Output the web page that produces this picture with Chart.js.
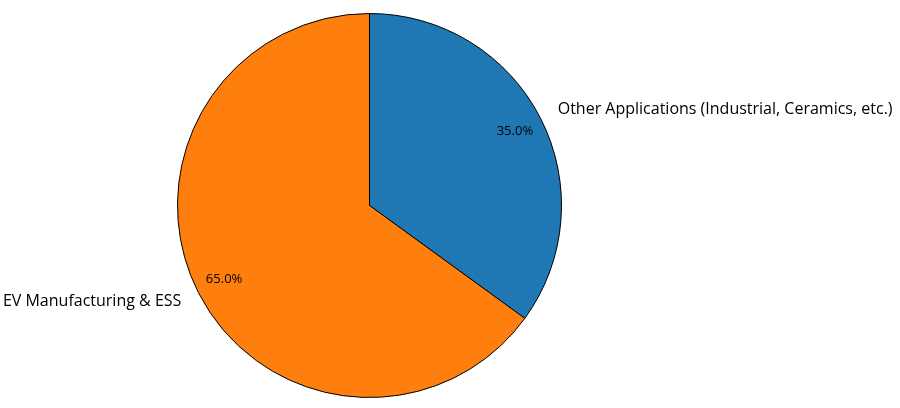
<!DOCTYPE html>
<html lang="en">
<head>
    <meta charset="UTF-8">
    <title>Pie chart</title>
    <script src="https://cdn.jsdelivr.net/npm/chart.js"></script>
    <style>
        body {
            margin: 0;
            padding: 0;
            background-color: #ffffff;
        }
        canvas {
            display: block;
        }
    </style>
</head>
<body>
    <canvas id="myChart" width="900" height="408"></canvas>

    <script>
        const labels = ['Other Applications (Industrial, Ceramics, etc.)', 'EV Manufacturing & ESS'];
        const shares = [35.0, 65.0];
        const colors = ['#1f77b4', '#ff7f0e'];

        const fontFamily = '"Open Sans", sans-serif';

        // labels outside the slices and percentages inside, like matplotlib's autopct
        const sliceLabels = {
            id: 'sliceLabels',
            afterDatasetsDraw(chart) {
                const ctx = chart.ctx;
                const meta = chart.getDatasetMeta(0);
                const total = shares.reduce((a, b) => a + b, 0);
                ctx.save();
                ctx.fillStyle = '#000000';
                ctx.textBaseline = 'middle';
                meta.data.forEach((arc, i) => {
                    const mid = (arc.startAngle + arc.endAngle) / 2;
                    const r = arc.outerRadius;
                    const cos = Math.cos(mid);
                    const sin = Math.sin(mid);

                    // percentage
                    ctx.font = '13px ' + fontFamily;
                    ctx.textAlign = 'center';
                    const pct = (shares[i] / total * 100).toFixed(1) + '%';
                    ctx.fillText(pct, arc.x + cos * r * 0.85, arc.y + sin * r * 0.85);

                    // category label
                    ctx.font = '16px ' + fontFamily;
                    ctx.textAlign = cos >= 0 ? 'left' : 'right';
                    ctx.fillText(labels[i], arc.x + cos * r * 1.1, arc.y + sin * r * 1.1);
                });
                ctx.restore();
            }
        };

        const ctx = document.getElementById('myChart').getContext('2d');
        const myChart = new Chart(ctx, {
            type: 'pie',
            data: {
                labels: labels,
                datasets: [{
                    data: shares,
                    backgroundColor: colors,
                    borderColor: '#000000',
                    borderWidth: 1,
                    hoverOffset: 0
                }]
            },
            options: {
                responsive: false,
                animation: false,
                devicePixelRatio: 1,
                layout: {
                    padding: { left: 177, right: 338, top: 13, bottom: 10 }
                },
                plugins: {
                    legend: { display: false },
                    tooltip: { enabled: false }
                }
            },
            plugins: [sliceLabels]
        });
    </script>
</body>
</html>
